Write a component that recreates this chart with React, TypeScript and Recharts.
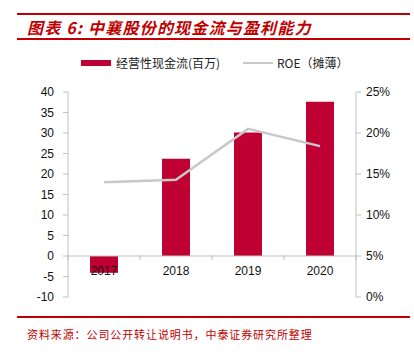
import React from "react";
import {
  ComposedChart, Bar, Line, XAxis, YAxis, ReferenceLine,
} from "recharts";

// chart data
const years = ["2017", "2018", "2019", "2020"];
const cashFlow = [-4.1, 23.7, 30.1, 37.6]; // 经营性现金流(百万)
const roe = [14.0, 14.3, 20.5, 18.4]; // ROE（摊薄）, %
const leftTicks = [-10, -5, 0, 5, 10, 15, 20, 25, 30, 35, 40];
const rightTicks = [0, 5, 10, 15, 20, 25];

const RED = "#c00000";
const BAR = "#be0032";
const GREY = "#c8c8c8";
const AXIS = "#bfbfbf";
const FONT = "'Liberation Sans', Arial, sans-serif";
const CJK = "'Noto Sans CJK SC', sans-serif";

const W = 414;
const H = 354;
// plot area: x 68..356, y 92..297
const BAND = (356 - 68) / years.length;

const data = years.map((year, i) => ({ year, cash: cashFlow[i], roe: roe[i] }));

function XTick(props: any) {
  const { x, y, index } = props;
  const zeroY = y - 42; // value 0 of the left axis
  return (
    <g>
      {index === 0 && (
        <line x1={x - BAND / 2} x2={x - BAND / 2} y1={zeroY} y2={zeroY + 5} stroke={AXIS} />
      )}
      <line x1={x + BAND / 2} x2={x + BAND / 2} y1={zeroY} y2={zeroY + 5} stroke={AXIS} />
      <text x={x} y={zeroY + 20} textAnchor="middle" fontSize={12} fontFamily={FONT} fill="#111">
        {props.payload.value}
      </text>
    </g>
  );
}

export default function App() {
  return (
    <div style={{ position: "absolute", left: 0, top: 0, width: W, height: H, background: "#fff" }}>
      {/* title */}
      <div style={{ position: "absolute", left: 17, top: 13, width: 393, height: 2, background: RED }} />
      <div
        style={{
          position: "absolute", left: 27, top: 16, fontFamily: CJK, fontSize: 16, fontWeight: 700,
          fontStyle: "italic", color: RED, letterSpacing: 1.2, whiteSpace: "nowrap", lineHeight: "22px",
        }}
      >
        图表 6: 中襄股份的现金流与盈利能力
      </div>
      <div style={{ position: "absolute", left: 17, top: 38, width: 393, height: 2, background: RED }} />

      {/* legend */}
      <div style={{ position: "absolute", left: 81, top: 60, width: 30, height: 6, background: BAR }} />
      <div style={{ position: "absolute", left: 116, top: 55, fontFamily: CJK, fontSize: 12, color: "#222", lineHeight: "16px", whiteSpace: "nowrap" }}>
        经营性现金流(百万)
      </div>
      <div style={{ position: "absolute", left: 243, top: 62, width: 30, height: 2, background: GREY }} />
      <div style={{ position: "absolute", left: 277, top: 55, fontFamily: CJK, fontSize: 12, color: "#222", lineHeight: "16px", whiteSpace: "nowrap" }}>
        ROE（摊薄）
      </div>

      <div style={{ position: "absolute", left: 0, top: 0 }}>
        <ComposedChart
          width={W}
          height={H}
          data={data}
          margin={{ top: 92, right: 18, bottom: 37, left: 28 }}
        >
          <XAxis
            dataKey="year"
            xAxisId="x"
            height={20}
            axisLine={false}
            tickLine={false}
            tickSize={0}
            tickMargin={0}
            tick={<XTick />}
            interval={0}
          />
          <YAxis
            yAxisId="left"
            width={40}
            domain={[-10, 40]}
            ticks={leftTicks}
            interval={0}
            axisLine={{ stroke: AXIS }}
            tickLine={{ stroke: AXIS }}
            tickSize={5}
            tickMargin={9}
            tick={{ fontSize: 12, fontFamily: FONT, fill: "#111" }}
          />
          <YAxis
            yAxisId="right"
            orientation="right"
            width={40}
            domain={[0, 25]}
            ticks={rightTicks}
            interval={0}
            axisLine={{ stroke: AXIS }}
            tickLine={{ stroke: AXIS }}
            tickSize={5}
            tickMargin={5}
            tickFormatter={(v) => `${v}%`}
            tick={{ fontSize: 12, fontFamily: FONT, fill: "#111" }}
          />
          <ReferenceLine y={0} yAxisId="left" xAxisId="x" stroke={AXIS} />
          <Bar dataKey="cash" xAxisId="x" yAxisId="left" fill={BAR} barSize={28} isAnimationActive={false} />
          <Line
            dataKey="roe"
            xAxisId="x"
            yAxisId="right"
            stroke={GREY}
            strokeWidth={2.5}
            dot={false}
            isAnimationActive={false}
          />
        </ComposedChart>
      </div>

      {/* footer */}
      <div style={{ position: "absolute", left: 17, top: 316, width: 393, height: 1.5, background: RED }} />
      <div
        style={{
          position: "absolute", left: 27, top: 326, fontFamily: CJK, fontSize: 11, color: RED,
          letterSpacing: 0.9, whiteSpace: "nowrap", lineHeight: "16px",
        }}
      >
        资料来源：公司公开转让说明书，中泰证券研究所整理
      </div>
    </div>
  );
}
